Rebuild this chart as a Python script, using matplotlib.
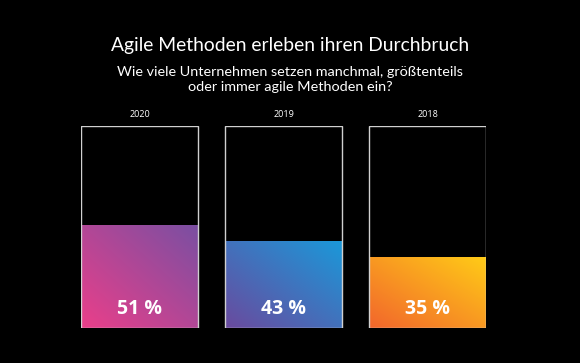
import matplotlib.pyplot as plt
import numpy as np
from matplotlib.colors import LinearSegmentedColormap

years = ["2020", "2019", "2018"]
shares = [51, 43, 35]
# (bottom-left colour, top-right colour) per bar
gradients = [("#ea3f8a", "#7a4fa2"),
             ("#6a4a9e", "#1b98d9"),
             ("#f2662c", "#ffcb17")]

title = "Agile Methoden erleben ihren Durchbruch"
subtitle = "Wie viele Unternehmen setzen manchmal, größtenteils\noder immer agile Methoden ein?"

fig = plt.figure(figsize=(5.8, 3.63), dpi=100, facecolor="black")
ax = fig.add_axes([81 / 580, 35 / 363, 405 / 580, 202 / 363])
ax.set_facecolor("black")

width = 117 / 144
x = np.arange(len(years))

# diagonal gradient image (0 at bottom-left, 1 at top-right)
gx, gy = np.meshgrid(np.linspace(0, 1, 100), np.linspace(0, 1, 100))
grad = (gx + gy) / 2

for i, (yr, val, (c0, c1)) in enumerate(zip(years, shares, gradients)):
    cmap = LinearSegmentedColormap.from_list("g%d" % i, [c0, c1])
    bar = ax.bar(x[i], val, width=width, color="none", edgecolor="none")[0]
    im = ax.imshow(grad, cmap=cmap, origin="lower", aspect="auto",
                   extent=(x[i] - width / 2, x[i] + width / 2, 0, val),
                   interpolation="bilinear", zorder=1)
    im.set_clip_path(bar)
    # outline of the full 100 % box
    ax.bar(x[i], 100, width=width, color="none", edgecolor="#d0d0d0",
           linewidth=1.0, zorder=2)
    ax.text(x[i], 103.5, yr, ha="center", va="bottom", color="white",
            fontsize=6.5, family="Open Sans")
    ax.text(x[i], 9.5, "%d %%" % val, ha="center", va="center", color="white",
            fontsize=14, fontweight="bold", family="Open Sans")

ax.set_xlim(-width / 2, x[-1] + width / 2)
ax.set_ylim(0, 100)
ax.axis("off")

fig.text(0.5, 1 - 45 / 363, title, ha="center", va="center", color="white",
         fontsize=13.9, family="Lato")
fig.text(0.5, 1 - 79.5 / 363, subtitle, ha="center", va="center", color="white",
         fontsize=10.4, family="Lato", linespacing=1.3)

fig.savefig("out.png", dpi=100, facecolor="black")
